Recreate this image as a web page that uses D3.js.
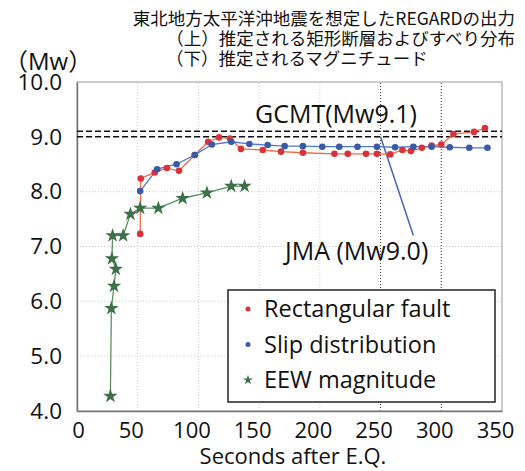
<!DOCTYPE html>
<html>
<head>
<meta charset="utf-8">
<script src="https://cdn.jsdelivr.net/npm/d3@7.9.0/dist/d3.min.js"></script>
<style>
  html, body { margin: 0; padding: 0; background: #fff; }
  svg { display: block; font-family: "Open Sans", "Noto Sans CJK JP", sans-serif; }
  .jp { font-family: "Noto Sans CJK JP", sans-serif; }
</style>
</head>
<body>
<div id="chart"></div>
<script>
// values
const rectTime = [52, 52.5, 64, 74, 84, 97, 108, 117, 126, 135, 153, 168, 186, 212, 223, 238, 247, 258, 268, 275, 284, 292, 300, 310, 327, 336];
const rectMw   = [7.23, 8.24, 8.35, 8.43, 8.38, 8.67, 8.91, 8.99, 8.97, 8.78, 8.76, 8.73, 8.71, 8.69, 8.69, 8.69, 8.69, 8.68, 8.76, 8.74, 8.80, 8.84, 8.86, 9.05, 9.09, 9.16];

const slipTime = [52, 66, 82, 97, 111, 127, 142, 157, 171, 186, 202, 216, 231, 247, 262, 277, 292, 307, 323, 338];
const slipMw   = [8.01, 8.41, 8.50, 8.67, 8.86, 8.91, 8.87, 8.85, 8.83, 8.83, 8.82, 8.82, 8.82, 8.82, 8.81, 8.82, 8.82, 8.81, 8.80, 8.80];

const eewTime = [27.5, 28.3, 30.5, 32, 28.8, 29.3, 38, 44, 52, 67, 87, 107, 127, 138];
const eewMw   = [4.27, 5.87, 6.28, 6.59, 6.78, 7.2, 7.2, 7.59, 7.7, 7.7, 7.88, 7.98, 8.1, 8.1];

const gcmtMw = 9.1;
const jmaMw = 9.0;
const jmaPointer = [[250, 9.0], [277, 7.2]];

const xTicks = [0, 50, 100, 150, 200, 250, 300, 350];
const yTicks = [4, 5, 6, 7, 8, 9, 10];

const titleLines = [
  "東北地方太平洋沖地震を想定したREGARDの出力",
  "（上）推定される矩形断層およびすべり分布",
  "（下）推定されるマグニチュード"
];

const legendItems = [
  { label: "Rectangular fault", color: "#d6343a", shape: "circle" },
  { label: "Slip distribution", color: "#3a5aa6", shape: "circle" },
  { label: "EEW magnitude", color: "#3d7048", shape: "star" }
];

const width = 525, height = 471;
const svg = d3.select("#chart").append("svg")
  .attr("width", width)
  .attr("height", height);

const x = d3.scaleLinear().domain([0, 350]).range([77, 502]);
const y = d3.scaleLinear().domain([4, 10]).range([411, 82]);

// title, one text block with three lines
const title = svg.append("text").attr("class", "jp")
  .attr("font-size", 17.5).attr("fill", "#111");
title.append("tspan").attr("x", 515).attr("y", 25).attr("text-anchor", "end").text(titleLines[0]);
title.append("tspan").attr("x", 515).attr("y", 45).attr("text-anchor", "end").text(titleLines[1]);
title.append("tspan").attr("x", 166).attr("y", 65).text(titleLines[2]);

svg.append("text")
  .attr("x", 4).attr("y", 70)
  .attr("font-size", 24).attr("fill", "#111")
  .text("（Mw）");

// grid
const grid = svg.append("g");
grid.selectAll(".hg").data(yTicks.slice(1, -1))
  .join("line")
  .attr("x1", x(0)).attr("x2", x(350))
  .attr("y1", d => y(d)).attr("y2", d => y(d))
  .attr("stroke", "#ccc").attr("stroke-dasharray", "1,2");
grid.selectAll(".vg").data(xTicks.slice(1, -1))
  .join("line")
  .attr("x1", d => x(d)).attr("x2", d => x(d))
  .attr("y1", y(4)).attr("y2", y(10))
  .attr("stroke", d => d >= 250 ? "#333" : "#ccc")
  .attr("stroke-dasharray", "1,2");

// frame
svg.append("rect")
  .attr("x", x(0)).attr("y", y(10))
  .attr("width", x(350) - x(0)).attr("height", y(4) - y(10))
  .attr("fill", "none").attr("stroke", "#999");

// axes
const yAxis = svg.append("g")
  .attr("transform", `translate(${x(0)},0)`)
  .call(d3.axisLeft(y).tickValues(yTicks).tickFormat(d3.format(".1f")).tickSize(0).tickPadding(15));
const xAxis = svg.append("g")
  .attr("transform", `translate(0,${y(4)})`)
  .call(d3.axisBottom(x).tickValues(xTicks).tickSize(0).tickPadding(11));
[yAxis, xAxis].forEach(a => {
  a.select(".domain").attr("stroke", "#777").attr("stroke-width", 1.5);
  a.selectAll("text").attr("fill", "#111")
    .attr("font-family", "'Open Sans', sans-serif");
});
yAxis.selectAll("text").attr("font-size", 22.5);
xAxis.selectAll("text").attr("font-size", 22).attr("dx", d => d > 0 ? -7 : 1);

svg.append("text")
  .attr("x", 293).attr("y", 464).attr("text-anchor", "middle")
  .attr("font-size", 22).attr("fill", "#111")
  .text("Seconds after E.Q.");

// reference lines
[gcmtMw, jmaMw].forEach(v => {
  svg.append("line")
    .attr("x1", x(0)).attr("x2", x(350))
    .attr("y1", y(v)).attr("y2", y(v))
    .attr("stroke", "#111").attr("stroke-width", 1.5)
    .attr("stroke-dasharray", "6,3");
});
svg.append("text")
  .attr("x", 255).attr("y", 123)
  .attr("font-size", 25).attr("fill", "#111")
  .text("GCMT(Mw9.1)");

svg.append("path")
  .datum(jmaPointer)
  .attr("d", d3.line().x(d => x(d[0])).y(d => y(d[1])))
  .attr("fill", "none").attr("stroke", "#4763b3").attr("stroke-width", 1.5);
svg.append("text")
  .attr("x", 285).attr("y", 260)
  .attr("font-size", 25).attr("fill", "#111")
  .text("JMA (Mw9.0)");

// series
const line = d3.line().x(d => x(d[0])).y(d => y(d[1]));
const rect = d3.zip(rectTime, rectMw);
const slip = d3.zip(slipTime, slipMw);
const eew = d3.zip(eewTime, eewMw);

svg.append("path").datum(eew).attr("d", line)
  .attr("fill", "none").attr("stroke", "#5b8f62").attr("stroke-width", 1.3);
svg.append("path").datum(rect).attr("d", line)
  .attr("fill", "none").attr("stroke", "#ec6a45").attr("stroke-width", 1.3);
svg.append("path").datum(slip).attr("d", line)
  .attr("fill", "none").attr("stroke", "#5078c8").attr("stroke-width", 1.3);

svg.append("g").selectAll("circle").data(rect)
  .join("circle")
  .attr("cx", d => x(d[0])).attr("cy", d => y(d[1])).attr("r", 3.3)
  .attr("fill", "#d6343a");
svg.append("g").selectAll("circle").data(slip)
  .join("circle")
  .attr("cx", d => x(d[0])).attr("cy", d => y(d[1])).attr("r", 3.3)
  .attr("fill", "#3a5aa6");
const star = d3.symbol().type(d3.symbolStar).size(65);
svg.append("g").selectAll("path").data(eew)
  .join("path")
  .attr("transform", d => `translate(${x(d[0])},${y(d[1])})`)
  .attr("d", star)
  .attr("fill", "#3d7048");

// legend
const legend = svg.append("g");
legend.append("rect")
  .attr("x", 228).attr("y", 290).attr("width", 267).attr("height", 112)
  .attr("fill", "#fff").attr("stroke", "#222").attr("stroke-width", 1.5);
const rows = legend.selectAll("g.row").data(legendItems)
  .join("g")
  .attr("transform", (d, i) => `translate(248,${309 + i * 35.5})`);
rows.filter(d => d.shape === "circle").append("circle")
  .attr("r", 2.5).attr("fill", d => d.color);
rows.filter(d => d.shape === "star").append("path")
  .attr("d", d3.symbol().type(d3.symbolStar).size(30))
  .attr("fill", d => d.color);
rows.append("text")
  .attr("x", 16).attr("dy", "0.35em")
  .attr("font-size", 23.5).attr("fill", "#111")
  .text(d => d.label);
</script>
</body>
</html>
